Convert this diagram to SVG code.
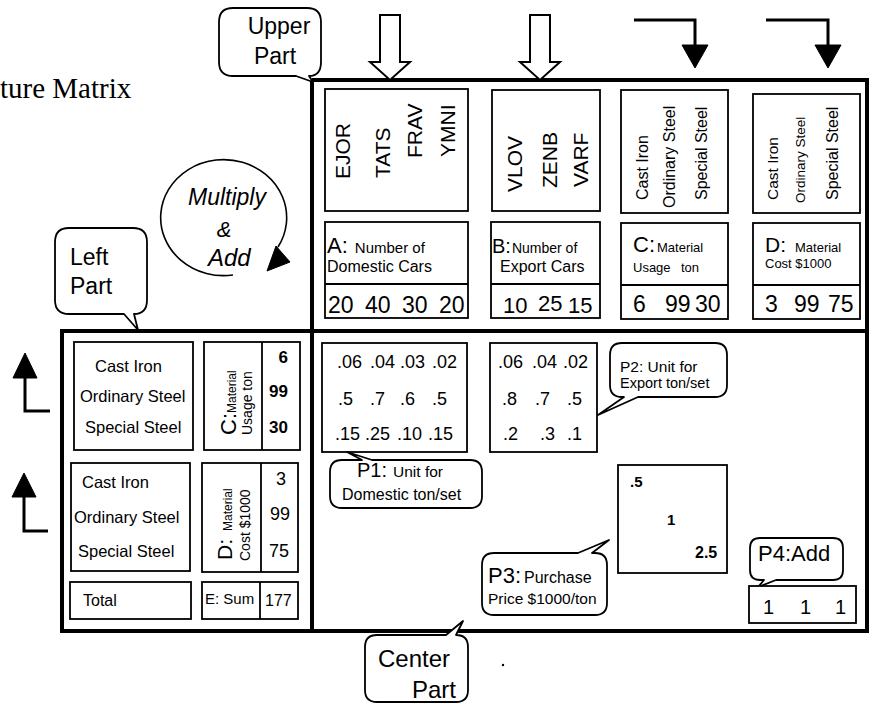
<svg xmlns="http://www.w3.org/2000/svg" width="872" height="704" viewBox="0 0 872 704">
<defs>
<style>
.thick{fill:none;stroke:#000;stroke-width:4;stroke-linejoin:miter}
.box{fill:#fff;stroke:#000;stroke-width:1.8}
.ln{fill:none;stroke:#000;stroke-width:1.8}
.co{fill:#fff;stroke:#000;stroke-width:1.8;stroke-linejoin:round}
.arr{fill:none;stroke:#000;stroke-width:3}
.head{fill:#000;stroke:#000;stroke-width:1}
.hollow{fill:#fff;stroke:#000;stroke-width:2;stroke-linejoin:miter}
text{font-family:"Liberation Sans",Arial,sans-serif;fill:#000}
.serif{font-family:"Liberation Serif","Times New Roman",serif}
.b{font-weight:bold}
</style>
</defs>
<rect width="872" height="704" fill="#fff"/>
<text class="serif" x="0" y="98" font-size="29">ture Matrix</text>

<g id="frame">
<path class="thick" d="M312,80 H867 V631 H62 V331 H867 M312,80 V631"/>
</g>

<g id="connectors">
<polygon class="hollow" points="380,15 400,15 400,62 410,62 390,80 370,62 380,62"/>
<polygon class="hollow" points="530,15 550,15 550,62 560,62 540,80 520,62 530,62"/>
<polyline class="arr" points="634,20 695,20 695,46"/>
<polygon class="head" points="682,45 708,45 695,68"/>
<polyline class="arr" points="766,20 828,20 828,46"/>
<polygon class="head" points="815,45 841,45 828,68"/>
<polyline class="arr" points="50,411 25,411 25,377"/>
<polygon class="head" points="13,378 37,378 25,353"/>
<polyline class="arr" points="48,531 24,531 24,496"/>
<polygon class="head" points="12,497 36,497 24,473"/>
<path fill="none" stroke="#000" stroke-width="1.6" d="M233,275 A63 58 0 1 1 278,247"/>
<polygon class="head" points="267,271 276,246 290,262"/>
</g>

<g id="multiply-add">
<text x="188" y="205" font-size="23" font-style="italic">Multiply</text>
<text x="224" y="237" font-size="22" font-style="italic" text-anchor="middle">&amp;</text>
<text x="208" y="266" font-size="24" font-style="italic">Add</text>
</g>

<g id="upper-part-label">
<path class="co" d="M233,8 H307 Q321,8 321,22 V62 Q321,76 309,76 L313,82 L296,76 H233 Q219,76 219,62 V22 Q219,8 233,8 Z"/>
<text x="279" y="34" font-size="23" text-anchor="middle">Upper</text>
<text x="275" y="64" font-size="23" text-anchor="middle">Part</text>
</g>

<g id="left-part-label">
<path class="co" d="M69,228 H133 Q147,228 147,242 V300 Q147,314 134,314 L138,330 L124,314 H69 Q55,314 55,300 V242 Q55,228 69,228 Z"/>
<text x="70" y="265" font-size="23">Left</text>
<text x="70" y="294" font-size="23">Part</text>
</g>

<g id="center-part-label">
<path class="co" d="M377,635 H446 L463,621 L456,635 Q468,635 468,647 V690 Q468,702 456,702 H377 Q365,702 365,690 V647 Q365,635 377,635 Z"/>
<text x="378" y="667" font-size="24">Center</text>
<text x="412" y="698" font-size="24">Part</text>
</g>
<circle cx="503" cy="665" r="1.2" fill="#000"/>

<g id="A-domestic">
<rect class="box" x="325" y="89" width="143" height="122"/>
<text transform="translate(350,179) rotate(-90)" font-size="21">EJOR</text>
<text transform="translate(390,178) rotate(-90)" font-size="21">TATS</text>
<text transform="translate(422,158) rotate(-90)" font-size="21">FRAV</text>
<text transform="translate(455,157) rotate(-90)" font-size="21">YMNI</text>
<rect class="box" x="325" y="222" width="143" height="96"/>
<line class="ln" x1="325" y1="284" x2="468" y2="284"/>
<text x="327" y="253"><tspan font-size="22">A:</tspan><tspan font-size="15" dx="7">Number of</tspan></text>
<text x="327" y="272" font-size="16">Domestic Cars</text>
<text y="313" font-size="23"><tspan x="328">20</tspan><tspan x="365">40</tspan><tspan x="402">30</tspan><tspan x="439">20</tspan></text>
</g>

<g id="B-export">
<rect class="box" x="492" y="90" width="108" height="121"/>
<text transform="translate(522,192) rotate(-90)" font-size="21">VLOV</text>
<text transform="translate(557,188) rotate(-90)" font-size="21">ZENB</text>
<text transform="translate(588,187) rotate(-90)" font-size="21">VARF</text>
<rect class="box" x="491" y="222" width="109" height="96"/>
<line class="ln" x1="491" y1="284" x2="600" y2="284"/>
<text x="492" y="253"><tspan font-size="20">B:</tspan><tspan font-size="14" dx="1">Number of</tspan></text>
<text x="500" y="272" font-size="16">Export Cars</text>
<text font-size="22"><tspan x="503" y="313">10</tspan><tspan x="538" y="311">25</tspan><tspan x="568" y="313">15</tspan></text>
</g>

<g id="C-usage">
<rect class="box" x="621" y="90" width="107" height="123"/>
<text transform="translate(648,200) rotate(-90)" font-size="16">Cast Iron</text>
<text transform="translate(675,208) rotate(-90)" font-size="16">Ordinary Steel</text>
<text transform="translate(707,200) rotate(-90)" font-size="16">Special Steel</text>
<rect class="box" x="621" y="223" width="107" height="96"/>
<line class="ln" x1="621" y1="285" x2="728" y2="285"/>
<text x="633" y="252"><tspan font-size="22">C:</tspan><tspan font-size="13" dx="2">Material</tspan></text>
<text y="272" font-size="13"><tspan x="633">Usage</tspan><tspan x="681">ton</tspan></text>
<text y="312" font-size="23"><tspan x="633">6</tspan><tspan x="665">99</tspan><tspan x="695">30</tspan></text>
</g>

<g id="D-cost">
<rect class="box" x="753" y="94" width="107" height="119"/>
<text transform="translate(778,200) rotate(-90)" font-size="15.5">Cast Iron</text>
<text transform="translate(805,203) rotate(-90)" font-size="13.5">Ordinary Steel</text>
<text transform="translate(838,200) rotate(-90)" font-size="16">Special Steel</text>
<rect class="box" x="753" y="223" width="107" height="96"/>
<line class="ln" x1="753" y1="285" x2="860" y2="285"/>
<text x="765" y="252"><tspan font-size="21">D:</tspan><tspan font-size="13" dx="9">Material</tspan></text>
<text x="765" y="268" font-size="13">Cost $1000</text>
<text y="312" font-size="23"><tspan x="765">3</tspan><tspan x="794">99</tspan><tspan x="828">75</tspan></text>
</g>

<g id="left-C">
<rect class="box" x="74" y="342" width="119" height="108"/>
<text x="95" y="372" font-size="16.5">Cast Iron</text>
<text x="80" y="402" font-size="16.5">Ordinary Steel</text>
<text x="85" y="433" font-size="16.5">Special Steel</text>
<rect class="box" x="204" y="342" width="96" height="108"/>
<line class="ln" x1="262" y1="342" x2="262" y2="450"/>
<text transform="translate(236,435) rotate(-90)"><tspan font-size="22">C:</tspan><tspan font-size="12">Material</tspan></text>
<text transform="translate(252,435) rotate(-90)" font-size="14">Usage  ton</text>
<text class="b" font-size="17" text-anchor="end"><tspan x="288" y="363">6</tspan><tspan x="288" y="397">99</tspan><tspan x="288" y="433">30</tspan></text>
</g>

<g id="left-D">
<rect class="box" x="71" y="463" width="119" height="108"/>
<text x="82" y="488" font-size="16.5">Cast Iron</text>
<text x="74" y="523" font-size="16.5">Ordinary Steel</text>
<text x="78" y="557" font-size="16.5">Special Steel</text>
<rect class="box" x="202" y="463" width="96" height="109"/>
<line class="ln" x1="261" y1="463" x2="261" y2="572"/>
<text transform="translate(232,560) rotate(-90)"><tspan font-size="21">D:</tspan><tspan font-size="12" dx="8">Material</tspan></text>
<text transform="translate(250,561) rotate(-90)" font-size="14">Cost $1000</text>
<text font-size="18" text-anchor="end"><tspan x="286" y="485">3</tspan><tspan x="290" y="520">99</tspan><tspan x="289" y="557">75</tspan></text>
</g>

<g id="left-total">
<rect class="box" x="70" y="582" width="121" height="37"/>
<text x="83" y="606" font-size="16">Total</text>
<rect class="box" x="202" y="582" width="96" height="37"/>
<line class="ln" x1="260" y1="582" x2="260" y2="619"/>
<text x="205" y="604" font-size="15">E: Sum</text>
<text x="265" y="606" font-size="16">177</text>
</g>

<g id="P1">
<rect class="box" x="322" y="343" width="145" height="109"/>
<text font-size="18"><tspan x="337" y="368">.06</tspan><tspan x="370" y="368">.04</tspan><tspan x="400" y="368">.03</tspan><tspan x="432" y="368">.02</tspan></text>
<text font-size="18"><tspan x="338" y="405">.5</tspan><tspan x="370" y="405">.7</tspan><tspan x="400" y="405">.6</tspan><tspan x="432" y="405">.5</tspan></text>
<text font-size="18"><tspan x="335" y="440">.15</tspan><tspan x="365" y="440">.25</tspan><tspan x="397" y="440">.10</tspan><tspan x="428" y="440">.15</tspan></text>
<path class="co" d="M342,460 H362 L347,452 L372,460 H470 Q482,460 482,472 V496 Q482,508 470,508 H342 Q330,508 330,496 V472 Q330,460 342,460 Z"/>
<text x="357" y="477"><tspan font-size="20">P1:</tspan><tspan font-size="15.5" dx="6">Unit for</tspan></text>
<text x="342" y="500" font-size="16">Domestic ton/set</text>
</g>

<g id="P2">
<rect class="box" x="490" y="343" width="107" height="109"/>
<text font-size="18"><tspan x="498" y="368">.06</tspan><tspan x="532" y="368">.04</tspan><tspan x="563" y="368">.02</tspan></text>
<text font-size="18"><tspan x="502" y="405">.8</tspan><tspan x="535" y="405">.7</tspan><tspan x="567" y="405">.5</tspan></text>
<text font-size="18"><tspan x="503" y="440">.2</tspan><tspan x="540" y="440">.3</tspan><tspan x="567" y="440">.1</tspan></text>
<path class="co" d="M622,343 H715 Q727,343 727,355 V385 Q727,397 715,397 H638 L598,415 L624,397 H622 Q610,397 610,385 V355 Q610,343 622,343 Z"/>
<text x="620" y="372" font-size="15.5">P2: Unit for</text>
<text x="620" y="388" font-size="14.5">Export ton/set</text>
</g>

<g id="P3">
<rect class="box" x="618" y="465" width="109" height="108"/>
<text class="b" x="630" y="487" font-size="15">.5</text>
<text class="b" x="667" y="525" font-size="15">1</text>
<text class="b" x="695" y="558" font-size="16">2.5</text>
<path class="co" d="M494,553 H578 L609,540 L592,553 H595 Q607,553 607,565 V603 Q607,615 595,615 H494 Q482,615 482,603 V565 Q482,553 494,553 Z"/>
<text x="488" y="583"><tspan font-size="22">P3:</tspan><tspan font-size="16" dx="3">Purchase</tspan></text>
<text x="488" y="604" font-size="15.5">Price $1000/ton</text>
</g>

<g id="P4">
<path class="co" d="M760,538 H833 Q843,538 843,548 V570 Q843,580 833,580 H776 L758,587 L764,580 H760 Q750,580 750,570 V548 Q750,538 760,538 Z"/>
<text x="758" y="561" font-size="22">P4:Add</text>
<rect class="box" x="749" y="586" width="107" height="37"/>
<text font-size="20"><tspan x="763" y="614">1</tspan><tspan x="800" y="614">1</tspan><tspan x="835" y="614">1</tspan></text>
</g>
</svg>
